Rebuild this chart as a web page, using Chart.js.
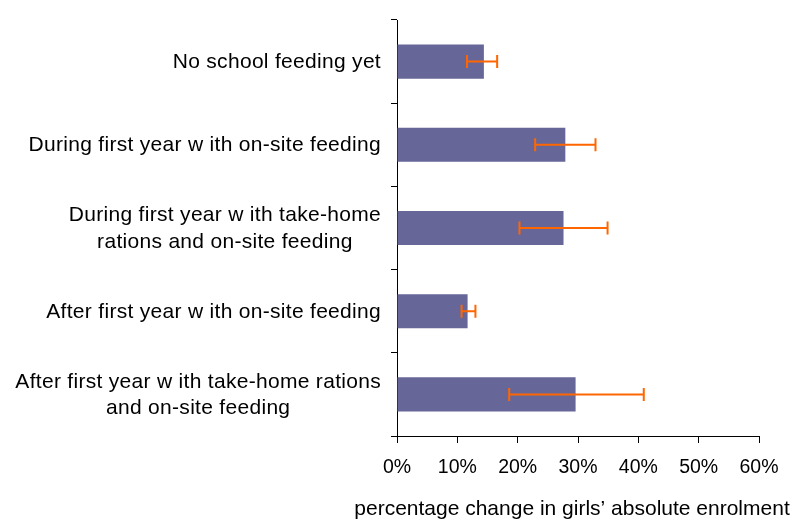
<!DOCTYPE html>
<html>
<head>
<meta charset="utf-8">
<script src="https://cdn.jsdelivr.net/npm/chart.js@4"></script>
<style>
  html, body { margin: 0; padding: 0; background: #fff; }
</style>
</head>
<body>
<canvas id="myChart" width="805" height="521"></canvas>
<script>
// categories (each one a list of lines)
const categories = [
  ['No school feeding yet'],
  ['During first year w ith on-site feeding'],
  ['During first year w ith take-home', 'rations and on-site feeding'],
  ['After first year w ith on-site feeding'],
  ['After first year w ith take-home rations', 'and on-site feeding']
];
// % change in girls' absolute enrolment
const values = [14.4, 27.9, 27.6, 11.7, 29.6];
// error bar ends
const errLow = [11.6, 22.9, 20.3, 10.7, 18.6];
const errHigh = [16.6, 32.9, 34.9, 13.0, 40.9];
const tickLabels = ['0%', '10%', '20%', '30%', '40%', '50%', '60%'];
const axisTitle = 'percentage change in girls\u2019 absolute enrolment';

const FAMILY = '"Liberation Sans", Arial, sans-serif';

// draws error bars, the category labels and the x title
const extras = {
  id: 'extras',
  afterDatasetsDraw(chart) {
    const ctx = chart.ctx;
    const x = chart.scales.x;
    const y = chart.scales.y;
    ctx.save();
    ctx.strokeStyle = '#ff6600';
    ctx.lineWidth = 2;
    errLow.forEach((lo, i) => {
      const yc = y.getPixelForValue(i);
      const x1 = x.getPixelForValue(lo);
      const x2 = x.getPixelForValue(errHigh[i]);
      ctx.beginPath();
      ctx.moveTo(x1, yc); ctx.lineTo(x2, yc);
      ctx.moveTo(x1, yc - 6.5); ctx.lineTo(x1, yc + 6.5);
      ctx.moveTo(x2, yc - 6.5); ctx.lineTo(x2, yc + 6.5);
      ctx.stroke();
    });
    ctx.restore();
  },
  afterDraw(chart) {
    const ctx = chart.ctx;
    const y = chart.scales.y;
    ctx.save();
    ctx.fillStyle = '#000';
    ctx.textAlign = 'center';
    ctx.textBaseline = 'alphabetic';
    ctx.font = '21px ' + FAMILY;
    ctx.letterSpacing = '0.3px';
    const right = 381;
    const lineH = 26.7;
    categories.forEach((lines, i) => {
      const yc = y.getPixelForValue(i);
      const w = Math.max(...lines.map(l => ctx.measureText(l).width));
      const cx = right - w / 2;
      const y0 = yc - (lines.length - 1) * lineH / 2 + 6.5;
      lines.forEach((l, j) => ctx.fillText(l, cx, y0 + j * lineH));
    });
    ctx.letterSpacing = '0px';
    ctx.fillText(axisTitle, 572, 515);
    ctx.restore();
  }
};

const ctx = document.getElementById('myChart');

new Chart(ctx, {
  type: 'bar',
  data: {
    labels: categories,
    datasets: [
      {
        data: values,
        backgroundColor: '#666699',
        borderWidth: 0,
        categoryPercentage: 1,
        barPercentage: 0.41
      }
    ]
  },
  plugins: [extras],
  options: {
    indexAxis: 'y',
    responsive: false,
    animation: false,
    devicePixelRatio: 1,
    layout: { padding: { top: 20, right: 46, bottom: 0, left: 0 } },
    plugins: {
      legend: { display: false },
      tooltip: { enabled: false }
    },
    scales: {
      x: {
        min: 0,
        max: 60,
        ticks: {
          stepSize: 10,
          color: '#000',
          padding: 13,
          font: { family: FAMILY, size: 19.5 },
          callback: (v, i) => tickLabels[i]
        },
        grid: { drawOnChartArea: false, drawTicks: true, tickLength: 7, color: '#000' },
        border: { color: '#000', width: 1 },
        afterFit: scale => { scale.height = 85; }
      },
      y: {
        ticks: { display: false },
        grid: { drawOnChartArea: false, drawTicks: true, tickLength: 6, color: '#000', offset: true },
        border: { color: '#000', width: 1 },
        afterFit: scale => { scale.width = 397; }
      }
    }
  }
});
</script>
</body>
</html>
